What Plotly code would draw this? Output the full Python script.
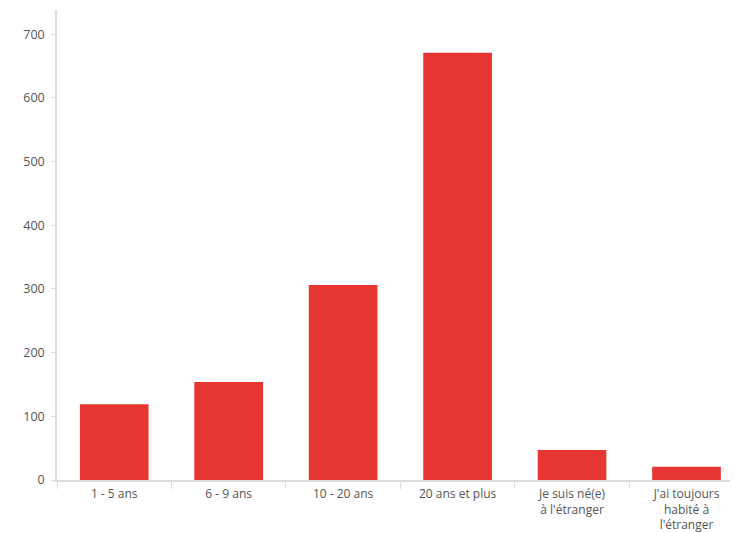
import plotly.graph_objects as go

categories = ["1 - 5 ans", "6 - 9 ans", "10 - 20 ans", "20 ans et plus",
              "Je suis né(e)<br>à l'étranger", "J'ai toujours<br>habité à<br>l'étranger"]
values = [119, 154, 306, 671, 47, 21]
y_ticks = [0, 100, 200, 300, 400, 500, 600, 700]

fig = go.Figure(go.Bar(x=categories, y=values, marker_color="#e63632",
                       marker_line_width=0, width=0.6))

fig.update_layout(
    width=730, height=525,
    margin=dict(l=49, r=0, t=2, b=53, autoexpand=False),
    plot_bgcolor="white", paper_bgcolor="white",
    font=dict(family="Open Sans", size=12, color="#555"),
    showlegend=False,
)
fig.update_xaxes(range=[-0.5, 5.45], showline=True, linecolor="#dcdcdc", linewidth=1.5,
                 ticks="outside", tickson="boundaries", ticklen=7, tickcolor="#dcdcdc",
                 showgrid=False, tickangle=0, fixedrange=True, ticklabelstandoff=2,
                 automargin=False, tickfont=dict(size=12))
fig.update_yaxes(range=[0, 738], tickvals=y_ticks, showline=True, linecolor="#dcdcdc",
                 linewidth=1.5, ticks="outside", ticklen=4, tickcolor="#dcdcdc",
                 showgrid=False, zeroline=False, ticklabelstandoff=4,
                 tickfont=dict(size=12.5), automargin=False)

fig.write_html("out.html")
